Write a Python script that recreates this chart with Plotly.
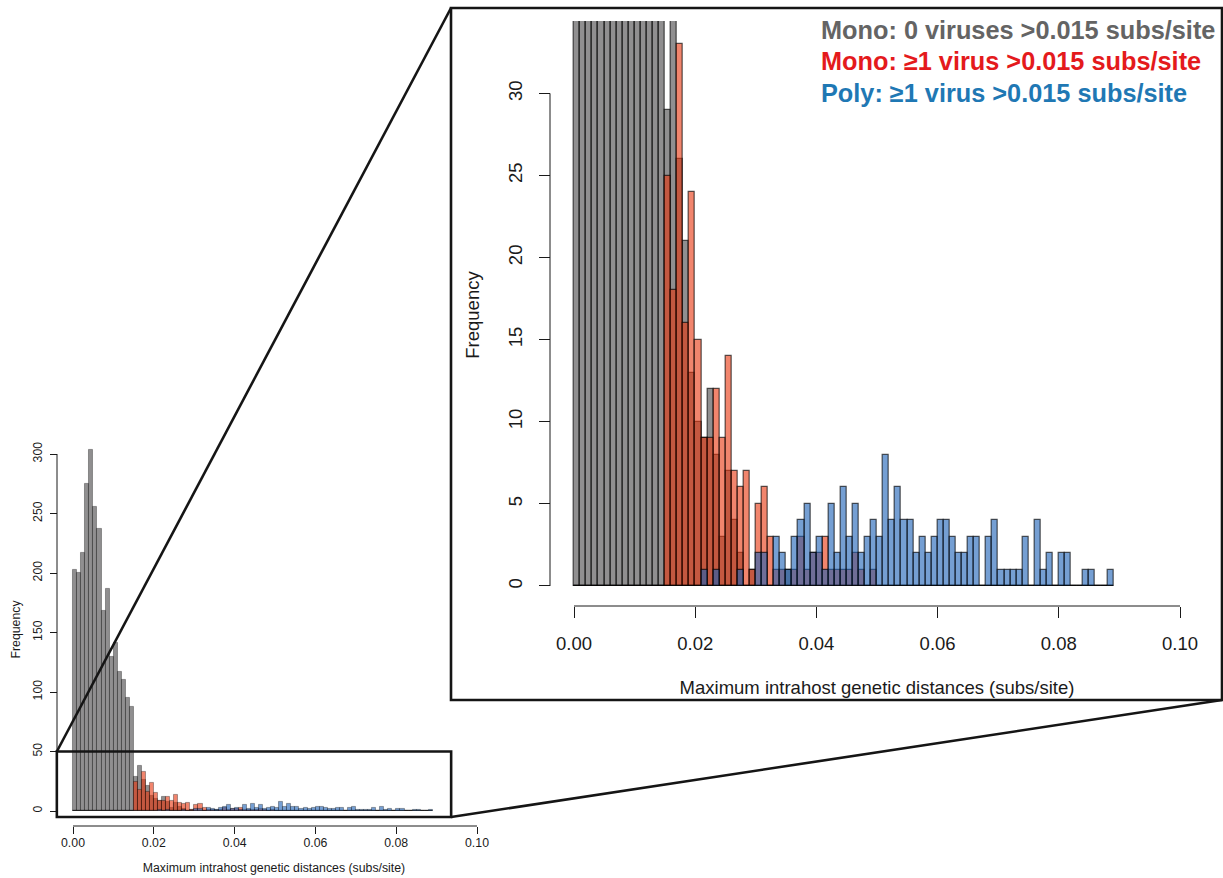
import plotly.graph_objects as go

# ---------------- data (counts per 0.001-wide bin, bin i = [i/1000, (i+1)/1000)) ----------------
bin_width = 0.001
n_bins = 89
bin_lefts = [i / 1000 for i in range(n_bins)]

gray_counts = ([203, 200, 217, 275, 304, 256, 237, 168, 187, 130, 141, 117, 110, 95, 88,
                29, 38, 26, 21, 13, 10, 9, 12, 8, 3, 7, 4, 2, 0, 1,
                0, 0, 0, 0, 0, 1] + [0] * (n_bins - 36))
red_counts = ([0] * 15 +
              [25, 18, 33, 16, 24, 15, 9, 9, 12, 9, 14, 7, 6, 7, 1,
               5, 6, 3, 1, 1, 0, 1, 3, 1, 2, 2, 3, 1, 1, 1, 1, 2, 1, 0, 1] +
              [0] * (n_bins - 50))
blue_counts = ([0] * 21 +
               [1, 0, 1, 0, 0, 0, 1, 0, 0,
                2, 2, 0, 3, 2, 1, 3, 4, 5, 2, 3, 1, 5, 2, 6, 3, 5, 2, 3, 4,
                3, 8, 4, 6, 4, 4, 2, 3, 2, 3, 4, 4, 3, 2, 2, 3, 3, 0, 3, 4,
                1, 1, 1, 1, 3, 0, 4, 1, 2, 0, 2, 2, 0, 0, 1, 1, 0, 0, 1])

x_tick_vals = [0.0, 0.02, 0.04, 0.06, 0.08, 0.10]
x_tick_text = ["0.00", "0.02", "0.04", "0.06", "0.08", "0.10"]
main_y_ticks = [0, 50, 100, 150, 200, 250, 300]
inset_y_ticks = [0, 5, 10, 15, 20, 25, 30]

legend_labels = ["Mono: 0 viruses >0.015 subs/site",
                 "Mono: \u22651 virus >0.015 subs/site",
                 "Poly: \u22651 virus >0.015 subs/site"]
x_title = "Maximum intrahost genetic distances (subs/site)"
y_title = "Frequency"

# ---------------- styling ----------------
W, H = 1223, 878
FONT = "Liberation Sans, Arial, Helvetica, sans-serif"
INK = "#1a1a1a"
fill_colors = ["rgba(70,68,70,0.6)", "rgba(232,52,12,0.6)", "rgba(25,95,182,0.6)"]
legend_colors = ["#646464", "#E41A1C", "#1F78B4"]

# pixel calibration of both panels (origin pixel, pixels per data unit)
MAIN = dict(x0=73, sx=4040, y0=811, sy=1.19, xr=[-0.0055, 0.105], yr=[-7, 312],
            xaxis_py=826, yaxis_px=57)
INSET = dict(x0=574, sx=6060, y0=586, sy=16.42, xr=[-0.004, 0.104], yr=[-1.4, 34.41],
             xaxis_py=606, yaxis_px=550)


def px_x(p, x):
    return (p["x0"] + p["sx"] * x) / W


def px_y(p, v):
    return 1 - (p["y0"] - p["sy"] * v) / H


def paper_x(px):
    return px / W


def paper_y(py):
    return 1 - py / H


fig = go.Figure()
series = [gray_counts, red_counts, blue_counts]
for xa, ya, lw, lc in [("x", "y", 0.6, "rgba(0,0,0,0.55)"), ("x2", "y2", 1.2, "rgba(0,0,0,0.65)")]:
    for vals, col in zip(series, fill_colors):
        fig.add_trace(go.Bar(
            x=bin_lefts, y=vals, width=bin_width, offset=0,
            marker=dict(color=col, line=dict(color=lc, width=lw)),
            xaxis=xa, yaxis=ya, showlegend=False, hoverinfo="x+y"))


def axis_common(size):
    return dict(showgrid=False, zeroline=False, showline=False, ticks="outside",
                tickcolor=INK, tickwidth=1, tickfont=dict(family=FONT, size=size, color=INK),
                title_font=dict(family=FONT, size=size, color=INK), automargin=False)


fig.update_layout(
    width=W, height=H, margin=dict(l=0, r=0, t=0, b=0),
    paper_bgcolor="white", plot_bgcolor="rgba(0,0,0,0)",
    barmode="overlay", bargap=0,
    xaxis=dict(domain=[px_x(MAIN, r) for r in MAIN["xr"]], range=MAIN["xr"],
               anchor="free", position=paper_y(MAIN["xaxis_py"]),
               tickvals=x_tick_vals, ticktext=x_tick_text, ticklen=7,
               ticklabelstandoff=-2,
               title=dict(text=x_title, standoff=14), **axis_common(12.3)),
    yaxis=dict(domain=[px_y(MAIN, r) for r in MAIN["yr"]], range=MAIN["yr"],
               anchor="free", position=paper_x(MAIN["yaxis_px"]),
               tickvals=main_y_ticks, ticklen=7, tickangle=-90,
               ticklabelstandoff=3,
               title=dict(text=y_title, standoff=6), **axis_common(12.3)),
    xaxis2=dict(domain=[px_x(INSET, r) for r in INSET["xr"]], range=INSET["xr"],
                anchor="free", position=paper_y(INSET["xaxis_py"]),
                tickvals=x_tick_vals, ticktext=x_tick_text, ticklen=11,
                ticklabelstandoff=10,
                title=dict(text=x_title, standoff=27), **axis_common(18.5)),
    yaxis2=dict(domain=[px_y(INSET, r) for r in INSET["yr"]], range=INSET["yr"],
                anchor="free", position=paper_x(INSET["yaxis_px"]),
                tickvals=inset_y_ticks, ticklen=11, tickangle=-90,
                ticklabelstandoff=10,
                title=dict(text=y_title, standoff=19), **axis_common(18.5)),
)

shapes = []
# axis lines (span first to last tick, as in base R)
shapes.append(dict(type="line", xref="paper", yref="paper",
                   x0=px_x(MAIN, x_tick_vals[0]), x1=px_x(MAIN, x_tick_vals[-1]),
                   y0=paper_y(MAIN["xaxis_py"]), y1=paper_y(MAIN["xaxis_py"]),
                   line=dict(color=INK, width=1)))
shapes.append(dict(type="line", xref="paper", yref="paper",
                   x0=paper_x(MAIN["yaxis_px"]), x1=paper_x(MAIN["yaxis_px"]),
                   y0=px_y(MAIN, main_y_ticks[0]), y1=px_y(MAIN, main_y_ticks[-1]),
                   line=dict(color=INK, width=1)))
shapes.append(dict(type="line", xref="paper", yref="paper",
                   x0=px_x(INSET, x_tick_vals[0]), x1=px_x(INSET, x_tick_vals[-1]),
                   y0=paper_y(INSET["xaxis_py"]), y1=paper_y(INSET["xaxis_py"]),
                   line=dict(color=INK, width=1)))
shapes.append(dict(type="line", xref="paper", yref="paper",
                   x0=paper_x(INSET["yaxis_px"]), x1=paper_x(INSET["yaxis_px"]),
                   y0=px_y(INSET, inset_y_ticks[0]), y1=px_y(INSET, inset_y_ticks[-1]),
                   line=dict(color=INK, width=1)))

# zoom box on the main panel (data coords) and the inset frame
zoom_x = [-0.004, 0.0936]
zoom_y = [-5, 50]
box_line = dict(color="#151515", width=2.6)
shapes.append(dict(type="rect", xref="x", yref="y", x0=zoom_x[0], x1=zoom_x[1],
                   y0=zoom_y[0], y1=zoom_y[1], line=box_line, layer="above"))
inset_frame_px = dict(left=451, right=1222, top=8, bottom=700)
shapes.append(dict(type="rect", xref="paper", yref="paper",
                   x0=paper_x(inset_frame_px["left"]), x1=paper_x(inset_frame_px["right"]),
                   y0=paper_y(inset_frame_px["bottom"]), y1=paper_y(inset_frame_px["top"]),
                   line=box_line, layer="above"))
# connector lines
shapes.append(dict(type="line", xref="paper", yref="paper",
                   x0=px_x(MAIN, zoom_x[0]), y0=px_y(MAIN, zoom_y[1]),
                   x1=paper_x(inset_frame_px["left"]), y1=paper_y(inset_frame_px["top"]),
                   line=box_line, layer="above"))
shapes.append(dict(type="line", xref="paper", yref="paper",
                   x0=px_x(MAIN, zoom_x[1]), y0=px_y(MAIN, zoom_y[0]),
                   x1=paper_x(inset_frame_px["right"]), y1=paper_y(inset_frame_px["bottom"]),
                   line=box_line, layer="above"))
fig.update_layout(shapes=shapes)

legend_rows_py = [30, 61, 93]
for label, col, py in zip(legend_labels, legend_colors, legend_rows_py):
    fig.add_annotation(text=label, xref="paper", yref="paper",
                       x=paper_x(819), y=paper_y(py), xanchor="left", yanchor="middle",
                       showarrow=False,
                       font=dict(family=FONT, size=25.3, color=col, weight="bold"))

fig.write_html("out.html", config={"displayModeBar": False},
               post_script="document.body.style.margin='0';")
